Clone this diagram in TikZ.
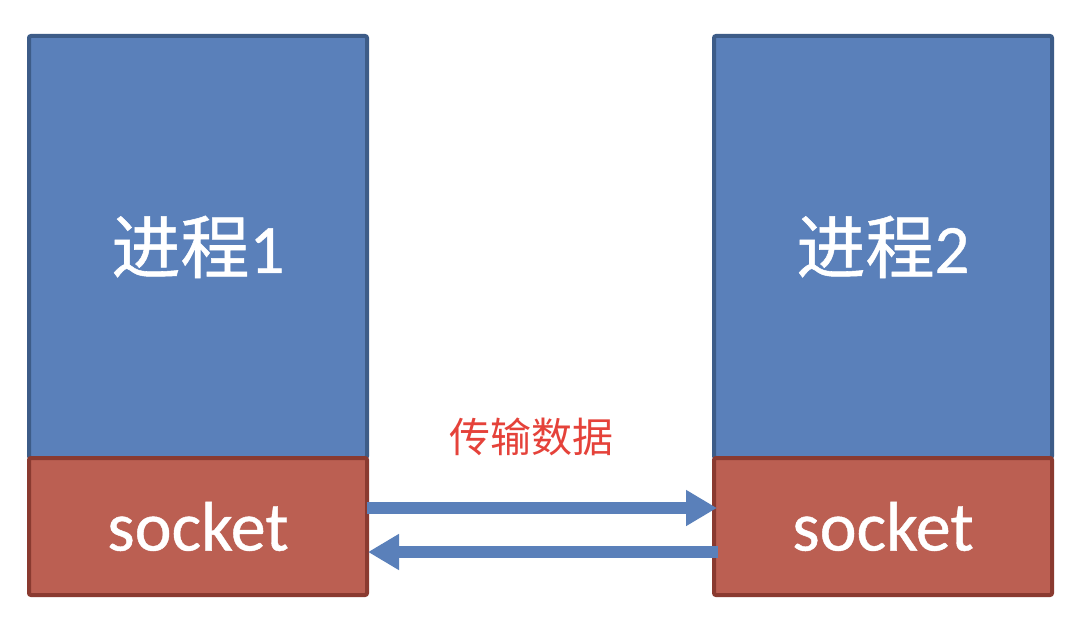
\documentclass[tikz,border=0pt]{standalone}
\usepackage{fontspec}
\setmainfont{Carlito}[FakeBold=0.6]
\newfontfamily\cjk{Noto Sans CJK SC}[FakeBold=0.8]
\newfontfamily\cjklabel{Noto Sans CJK SC}
\usetikzlibrary{arrows.meta,calc}
\definecolor{procblue}{HTML}{5A80BA}
\definecolor{procborder}{HTML}{3D5C88}
\definecolor{sockred}{HTML}{BB5F52}
\definecolor{sockborder}{HTML}{8A3A30}
\definecolor{arrowblue}{HTML}{5A80BA}
\definecolor{labelred}{HTML}{E5423A}
\begin{document}
\begin{tikzpicture}[x=1pt,y=-1pt,
  procbox/.style={draw=procborder,fill=procblue,line width=4pt,rounded corners=2pt,
    text=white,inner sep=0pt,outer sep=0pt,minimum width=338pt,minimum height=422pt,
    font=\fontsize{69}{72}\selectfont},
  sockbox/.style={draw=sockborder,fill=sockred,line width=4pt,rounded corners=2pt,
    text=white,inner sep=0pt,outer sep=0pt,minimum width=338pt,minimum height=137pt,
    font=\fontsize{70}{72}\selectfont},
  flow/.style={draw=arrowblue,line width=12pt,-{Triangle[length=31pt,width=34pt]}},
  flowlabel/.style={text=labelred,font=\cjklabel\fontsize{41}{44}\selectfont}
]
\useasboundingbox (0,0) rectangle (1088,626);
\fill[white] (0,0) rectangle (1088,626);
\node[procbox,anchor=north west] (p1) at (29,36) {{\cjk 进程}1};
\node[sockbox,anchor=north west] (s1) at (29,458) {socket};
\node[procbox,anchor=north west] (p2) at (714,36) {{\cjk 进程}2};
\node[sockbox,anchor=north west] (s2) at (714,458) {socket};
\node[flowlabel] (lbl) at (531,437) {传输数据};
\draw[flow] ([yshift=18.5pt]s1.east) -- ([yshift=18.5pt,xshift=3pt]s2.west);
\draw[flow] ([yshift=-25.5pt,xshift=4pt]s2.west) -- ([yshift=-25.5pt,xshift=1pt]s1.east);
\end{tikzpicture}
\end{document}
